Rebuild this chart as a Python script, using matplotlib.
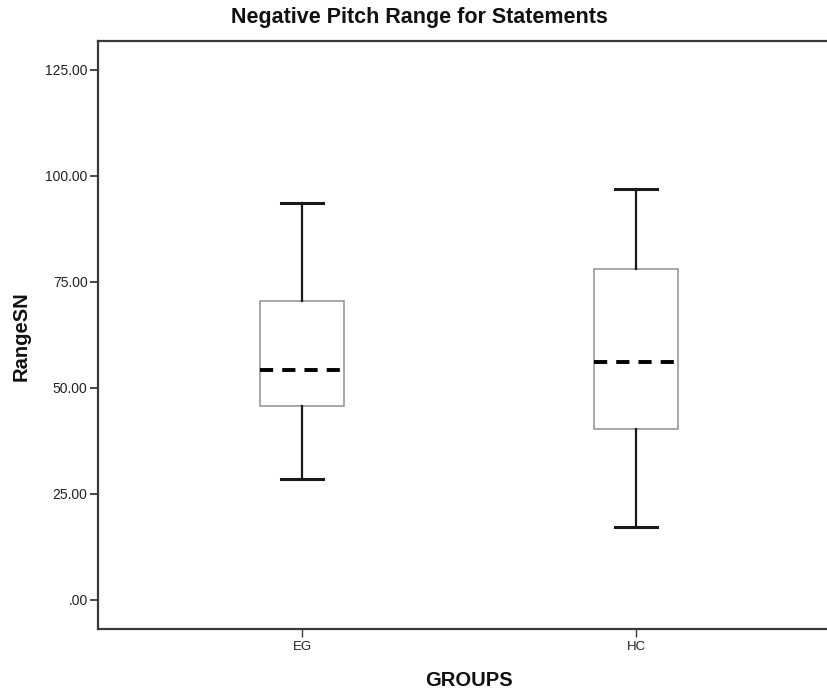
import matplotlib
matplotlib.use("Agg")
import matplotlib.pyplot as plt

plt.rcParams['font.family'] = ['Liberation Sans', 'DejaVu Sans']
plt.rcParams['lines.scale_dashes'] = False

# Five-number summaries per group
groups = ["EG", "HC"]
whisker_low = [28.5, 17.2]
q1 = [45.8, 40.3]
median = [54.2, 56.1]
q3 = [70.4, 78.0]
whisker_high = [93.7, 96.9]

yticks = [0, 25, 50, 75, 100, 125]
ytick_labels = [".00", "25.00", "50.00", "75.00", "100.00", "125.00"]

W, H = 828, 694
fig = plt.figure(figsize=(W / 100, H / 100), dpi=100)
left, right, top, bottom = 98, 840, 41, 629
ax = fig.add_axes([left / W, 1 - bottom / H, (right - left) / W, (bottom - top) / H])

stats = []
for i, g in enumerate(groups):
    stats.append(dict(label=g, whislo=whisker_low[i], q1=q1[i], med=median[i],
                      q3=q3[i], whishi=whisker_high[i], fliers=[]))

ax.bxp(stats, positions=[1, 2], widths=0.25, capwidths=0.123, showfliers=False,
       patch_artist=True,
       boxprops=dict(facecolor="white", edgecolor="#8f8f8f", linewidth=1.1),
       whiskerprops=dict(color="#1a1a1a", linewidth=1.6),
       capprops=dict(color="#1a1a1a", linewidth=2.2),
       medianprops=dict(color="black", linewidth=2.8, linestyle=(0, (9.5, 6.5)),
                        solid_capstyle="butt", dash_capstyle="butt"))

ax.set_xlim(0.389, 2.611)
ax.set_ylim(-6.84, 131.8)
ax.set_yticks(yticks)
ax.set_yticklabels(ytick_labels)
ax.set_xticks([1, 2])
ax.set_xticklabels(groups)

for s in ax.spines.values():
    s.set_color("#3a3a3a")
    s.set_linewidth(1.6)
ax.spines["right"].set_visible(False)

ax.tick_params(axis="y", length=6, width=1.3, color="#3a3a3a", pad=1.5, labelsize=10, labelcolor="#222222")
ax.tick_params(axis="x", length=6, width=1.0, color="#3a3a3a", pad=3, labelsize=9.5, labelcolor="#222222")

fig.text(419 / W, 1 - 18 / H, "Negative Pitch Range for Statements", ha="center", va="center",
         fontsize=15.5, fontweight="bold", color="#111111")
fig.text(469 / W, 1 - 681 / H, "GROUPS", ha="center", va="center",
         fontsize=14.5, fontweight="bold", color="#111111")
fig.text(21 / W, 1 - 336 / H, "RangeSN", ha="center", va="center", rotation=90,
         fontsize=14.5, fontweight="bold", color="#111111")

fig.savefig("out.png", dpi=100)
